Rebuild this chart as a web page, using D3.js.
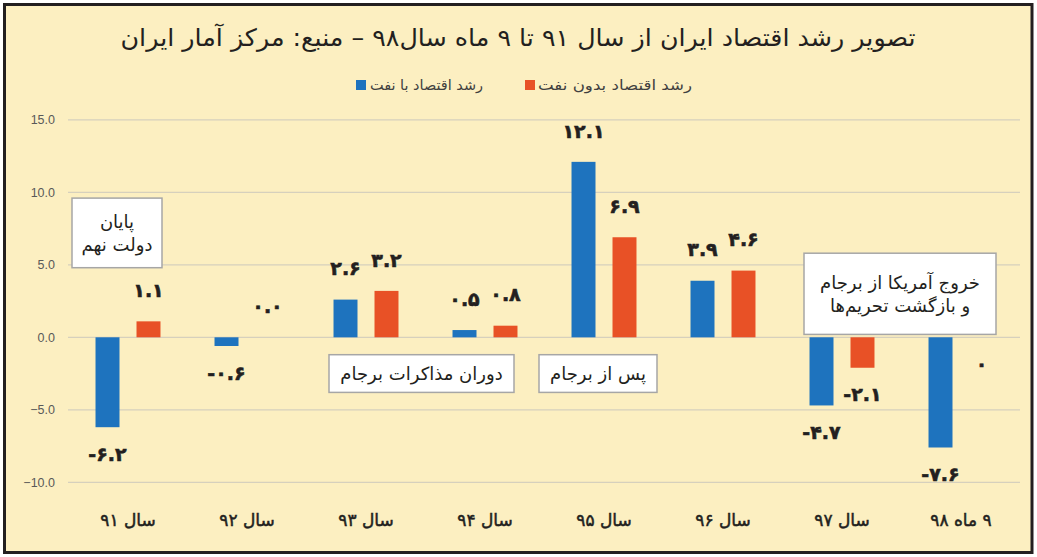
<!DOCTYPE html>
<html><head><meta charset="utf-8">
<script src="https://cdn.jsdelivr.net/npm/d3@7"></script>
<style>body{margin:0;background:#fff}svg{display:block}</style>
</head><body><svg id="c" width="1037" height="557"></svg>
<script>
const categories = ["سال ۹۱","سال ۹۲","سال ۹۳","سال ۹۴","سال ۹۵","سال ۹۶","سال ۹۷","۹ ماه ۹۸"];
const seriesNames = ["رشد اقتصاد با نفت","رشد اقتصاد بدون نفت"];
const withOil = [-6.2,-0.6,2.6,0.5,12.1,3.9,-4.7,-7.6];
const withoutOil = [1.1,0.0,3.2,0.8,6.9,4.6,-2.1,-0];
const withOilLabels = ["-۶.۲","-۰.۶","۲.۶","۰.۵","۱۲.۱","۳.۹","-۴.۷","-۷.۶"];
const withoutOilLabels = ["۱.۱","۰.۰","۳.۲","۰.۸","۶.۹","۴.۶","-۲.۱","۰"];
const yTicks = [-10,-5,0,5,10,15];
const title = "تصویر رشد اقتصاد ایران از سال ۹۱ تا ۹ ماه سال۹۸ – منبع: مرکز آمار ایران";
const notes = [
  {lines:["پایان","دولت نهم"], cat:0, v0:9.6, v1:4.8, dx0:-56, dx1:34},
  {lines:["دوران مذاکرات برجام"], cat:2, v0:-1.2, v1:-3.8, dx0:-37, dx1:148},
  {lines:["پس از برجام"], cat:4, v0:-1.2, v1:-3.8, dx0:-65, dx1:53},
  {lines:["خروج آمریکا از برجام","و بازگشت تحریم‌ها"], cat:6, v0:5.8, v1:0.2, dx0:-38, dx1:154}
];

const colors = ["#1e73be","#e85126"];
const fa = "'DejaVu Sans', sans-serif";
const svg = d3.select("#c");

svg.append("rect").attr("x",4.5).attr("y",4.5).attr("width",1027.5).attr("height",548)
  .attr("fill","#fcefc1").attr("stroke","#231f20").attr("stroke-width",3);

const x0 = d3.scaleBand().domain(categories).range([68.5,1020.5]);
const x1 = d3.scaleBand().domain(seriesNames).range([0,x0.bandwidth()]).paddingInner(0.415).paddingOuter(0.659);
const y = d3.scaleLinear().domain([-10,15]).range([482.3,119.8]);

// grid
svg.append("g").selectAll("line").data(yTicks).join("line")
  .attr("x1",68).attr("x2",1020).attr("y1",d=>y(d)).attr("y2",d=>y(d))
  .attr("stroke","#d6d0bd").attr("stroke-width",1.3);

// y axis
const ya = svg.append("g").attr("transform","translate(57,0)")
  .call(d3.axisLeft(y).tickValues(yTicks).tickFormat(d3.format(".1f")).tickSize(0));
ya.select(".domain").remove();
ya.selectAll("text").attr("font-family","'Liberation Sans', sans-serif").attr("font-size",12.5).attr("fill","#595959").attr("x",-2);

// title
svg.append("text").attr("x",518).attr("y",46).attr("text-anchor","middle")
  .attr("direction","rtl").attr("font-family",fa).attr("font-size",24).attr("fill","#231f20")
  .attr("textLength",795).attr("lengthAdjust","spacingAndGlyphs").text(title);

// legend
const legend = [{name:seriesNames[0],c:colors[0],sx:356,tx:370,tw:113},{name:seriesNames[1],c:colors[1],sx:525,tx:538,tw:154}];
legend.forEach(l=>{
  svg.append("rect").attr("x",l.sx).attr("y",80).attr("width",10).attr("height",10).attr("fill",l.c);
  svg.append("text").attr("x",l.tx).attr("y",90).attr("text-anchor","start").attr("direction","ltr")
    .attr("font-family",fa).attr("font-size",14).attr("fill","#404040")
    .attr("textLength",l.tw).attr("lengthAdjust","spacingAndGlyphs").text(l.name);
});

// bars
const series = [withOil, withoutOil];
const labels = [withOilLabels, withoutOilLabels];
const isNeg = v => v < 0 || Object.is(v,-0);
series.forEach((vals,si)=>{
  const g = svg.append("g");
  g.selectAll("rect").data(vals).join("rect")
    .attr("x",(d,i)=>x0(categories[i])+x1(seriesNames[si]))
    .attr("width",x1.bandwidth())
    .attr("y",d=>y(Math.max(0,d)))
    .attr("height",d=>Math.abs(y(d)-y(0)))
    .attr("fill",colors[si]);
  g.selectAll("text").data(vals).join("text")
    .attr("x",(d,i)=>x0(categories[i])+x1(seriesNames[si])+x1.bandwidth()/2)
    .attr("y",d=>isNeg(d)? y(d)+27 : y(d)-31)
    .attr("dy","0.35em").attr("text-anchor","middle").attr("direction","ltr")
    .attr("font-family",fa).attr("font-weight","bold").attr("font-size",19).attr("fill","#231f20")
    .attr("stroke","#231f20").attr("stroke-width",0.6)
    .text((d,i)=>labels[si][i]);
});

// x labels
svg.append("g").selectAll("text").data(categories).join("text")
  .attr("x",d=>x0(d)+x0.bandwidth()/2).attr("y",520).attr("dy","0.35em")
  .attr("text-anchor","middle").attr("direction","rtl")
  .attr("font-family",fa).attr("font-size",17).attr("fill","#231f20")
  .attr("stroke","#231f20").attr("stroke-width",0.5).text(d=>d);

// annotation boxes
notes.forEach(n=>{
  const cx = x0(categories[n.cat]) + x0.bandwidth()/2;
  const bx = cx + n.dx0, bw = n.dx1 - n.dx0;
  const by = y(n.v0), bh = y(n.v1) - y(n.v0);
  svg.append("rect").attr("x",bx).attr("y",by).attr("width",bw).attr("height",bh)
    .attr("fill","#fff").attr("stroke","#a6a6a6").attr("stroke-width",1.5);
  const lh = 23, mid = by + bh/2;
  n.lines.forEach((t,i)=>{
    svg.append("text").attr("x",bx+bw/2).attr("y",mid + (i-(n.lines.length-1)/2)*lh)
      .attr("dy","0.35em").attr("text-anchor","middle").attr("direction","rtl")
      .attr("font-family",fa).attr("font-size",18).attr("fill","#231f20").text(t);
  });
});
</script></body></html>
